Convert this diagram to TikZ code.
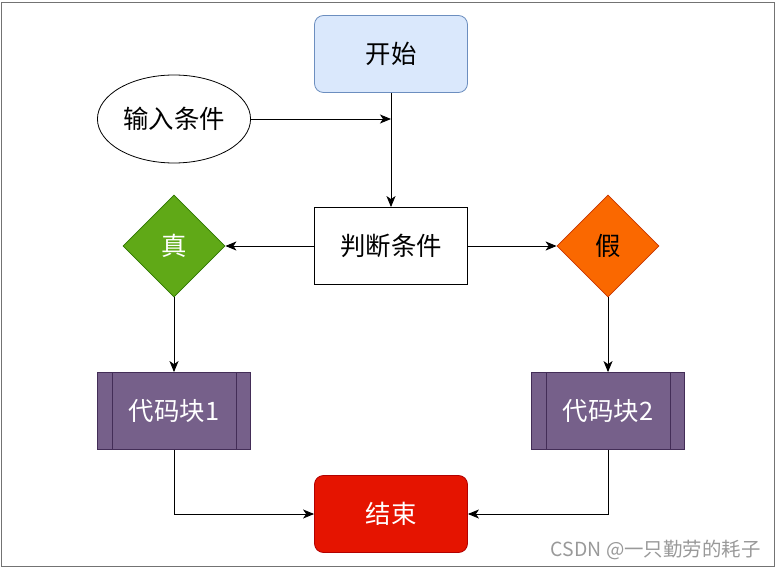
\documentclass[tikz,border=0pt]{standalone}
\usepackage{fontspec}
\setmainfont{Noto Sans CJK SC}
\usetikzlibrary{positioning,arrows.meta,shapes.geometric,calc}
\definecolor{startfill}{HTML}{DAE8FC}
\definecolor{startdraw}{HTML}{6C8EBF}
\definecolor{truefill}{HTML}{60A917}
\definecolor{truedraw}{HTML}{2D7600}
\definecolor{falsefill}{HTML}{FA6800}
\definecolor{falsedraw}{HTML}{C73500}
\definecolor{codefill}{HTML}{76608A}
\definecolor{codedraw}{HTML}{432D57}
\definecolor{endfill}{HTML}{E51400}
\definecolor{enddraw}{HTML}{B20000}

\begin{document}
\begin{tikzpicture}[
    x=1bp, y=-1bp,
    >={Stealth[length=11bp,width=9bp,inset=3bp]},
    box/.style={draw, minimum width=153bp, minimum height=77bp,
                font=\fontsize{25.5}{30}\selectfont, line width=0.8bp},
    roundbox/.style={box, rounded corners=9bp},
    choice/.style={draw, diamond, aspect=1, inner sep=0pt,
                   minimum width=102bp, minimum height=102bp,
                   font=\fontsize{25.5}{30}\selectfont, line width=0.8bp},
    codebox/.style={box, fill=codefill, draw=codedraw, text=white},
    arrow/.style={->, line width=0.9bp},
]

% frame
\useasboundingbox (0,0) rectangle (778,569);
\draw[black!55, line width=1bp] (1.5,2.5) rectangle (774.5,566.5);

% start and input
\node[roundbox, fill=startfill, draw=startdraw] (start) at (391,54) {开始};
\node[draw, ellipse, minimum width=153bp, minimum height=88bp, line width=0.8bp,
      font=\fontsize{25.5}{30}\selectfont] (input) at (174,119) {输入条件};
\coordinate (join) at (start.south |- input.east);

% decision
\node[box] (judge) at (391,246) {判断条件};
\node[choice, fill=truefill, draw=truedraw, text=white] (true) at (174,246) {真};
\node[choice, fill=falsefill, draw=falsedraw] (false) at (608,246) {假};

% code blocks
\node[codebox] (code1) at (174,411) {代码块1};
\node[codebox] (code2) at (608,411) {代码块2};
\foreach \blk in {code1,code2} {
    \draw[codedraw, line width=0.8bp] ($(\blk.north west)+(15,0)$) -- ($(\blk.south west)+(15,0)$);
    \draw[codedraw, line width=0.8bp] ($(\blk.north east)+(-15,0)$) -- ($(\blk.south east)+(-15,0)$);
}

% end
\node[roundbox, fill=endfill, draw=enddraw, text=white] (end) at (391,514) {结束};

% arrows
\draw[arrow] (input.east) -- (join);
\draw[arrow] (start) -- (judge);
\draw[arrow] (judge) -- (true);
\draw[arrow] (judge) -- (false);
\draw[arrow] (true) -- (code1);
\draw[arrow] (false) -- (code2);
\draw[arrow] (code1.south) |- (end.west);
\draw[arrow] (code2.south) |- (end.east);

% watermark
\node[anchor=east, text=black!40, font=\fontsize{19.5}{23}\selectfont]
    (mark) at (764,550) {CSDN @一只勤劳的耗子};

\end{tikzpicture}
\end{document}
